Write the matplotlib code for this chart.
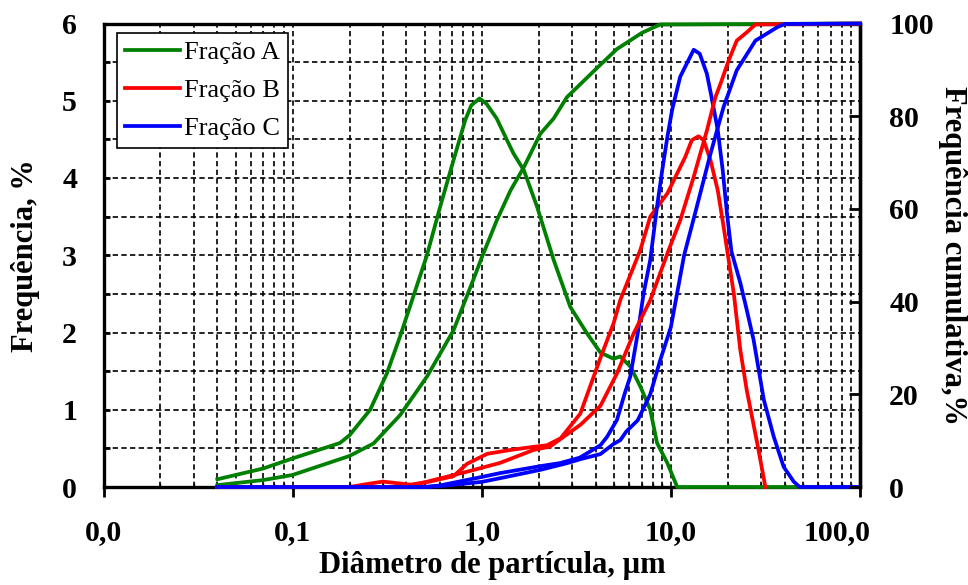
import numpy as np
import matplotlib
matplotlib.use("Agg")
import matplotlib.pyplot as plt
from matplotlib.ticker import FixedLocator, NullFormatter
from matplotlib.transforms import ScaledTranslation

plt.rcParams['font.family'] = ['Liberation Serif', 'DejaVu Serif']

# Fração A (verde)
xa_freq = [0.04, 0.07, 0.10, 0.178, 0.20, 0.257, 0.315, 0.37, 0.513, 0.603, 0.709, 0.818, 0.88,
           0.973, 1.06, 1.20, 1.36, 1.47, 1.67, 1.96, 2.40, 2.94, 3.60, 4.24, 4.98, 5.40, 6.1,
           6.9, 7.78, 8.45, 9.58, 10.8, 100]
ya_freq = [0.10, 0.24, 0.37, 0.57, 0.67, 1.0, 1.47, 1.95, 3.0, 3.63, 4.23, 4.75, 4.94,
           5.03, 4.96, 4.77, 4.49, 4.32, 4.10, 3.63, 2.94, 2.33, 1.99, 1.74, 1.66, 1.69, 1.56,
           1.30, 1.0, 0.57, 0.31, 0.0, 0.0]
xa_cum = [0.04, 0.07, 0.10, 0.20, 0.268, 0.37, 0.513, 0.709, 0.90, 1.0, 1.2, 1.42, 1.67, 2.04,
          2.40, 2.82, 4.24, 5.19, 7.04, 8.79, 100]
ya_cum = [0.4, 1.5, 2.6, 6.7, 9.4, 15.5, 23.8, 33.8, 44.6, 49.5, 57.5, 64.0, 69.0, 76.2,
          79.5, 84.1, 91.1, 94.5, 98.0, 99.8, 100]

# Fração B (vermelho)
xb_freq = [0.04, 0.20, 0.25, 0.30, 0.42, 0.53, 0.709, 0.836, 1.07, 1.42, 1.88, 2.21, 2.61,
           3.32, 4.24, 4.98, 5.40, 6.9, 7.78, 9.58, 11.9, 12.9, 14.0, 14.9, 16.2, 17.7, 19.0,
           20.2, 21.5, 23.3, 25.2, 28.6, 31.6]
yb_freq = [0, 0, 0.04, 0.07, 0.03, 0.07, 0.14, 0.30, 0.43, 0.48, 0.52, 0.54, 0.63,
           0.95, 1.67, 2.12, 2.42, 3.07, 3.50, 3.80, 4.27, 4.49, 4.54, 4.49, 4.23, 3.84, 3.37,
           2.94, 2.51, 1.77, 1.25, 0.57, 0.0]
xb_cum = [0.04, 0.40, 0.556, 0.836, 1.25, 1.88, 2.29, 3.32, 4.24, 5.19, 6.35, 7.78, 9.73,
          11.2, 13.2, 15.5, 17.2, 18.3, 20.2, 22.3, 25.2, 28.0, 100]
yb_cum = [0, 0, 1.5, 3.3, 5.2, 8.0, 8.7, 13.4, 17.5, 24.5, 33.1, 40.3, 51.1,
          57.5, 66.9, 76.9, 84.1, 87.0, 92.0, 96.3, 98.1, 99.8, 100]

# Fração C (azul)
xc_freq = [0.04, 0.50, 0.60, 1.0, 1.25, 2.04, 2.6, 3.3, 4.24, 4.6, 5.19, 5.7, 6.1, 6.68, 7.18,
           7.78, 8.45, 9.0, 9.58, 10.15, 11.2, 13.2, 14.2, 15.5, 16.4, 17.7, 18.8, 19.8, 20.9,
           23.3, 25.2, 27.4, 31.0, 35.0, 39.5, 44.6, 48.0, 100]
yc_freq = [0, 0, 0.02, 0.13, 0.18, 0.27, 0.31, 0.38, 0.54, 0.65, 0.87, 1.21, 1.43, 1.99, 2.51,
           2.94, 3.63, 4.10, 4.53, 4.88, 5.31, 5.66, 5.61, 5.35, 5.05, 4.62, 4.10, 3.54, 3.05,
           2.64, 2.29, 1.90, 1.13, 0.65, 0.26, 0.07, 0.0, 0.0]
xc_cum = [0.04, 0.50, 0.60, 1.0, 1.25, 2.04, 2.8, 3.32, 4.24, 4.98, 5.4, 5.82, 6.68, 7.78, 8.79,
          10.0, 11.75, 13.7, 16.2, 19.0, 22.3, 28.0, 36.5, 40, 100]
yc_cum = [0, 0, 0.2, 1.1, 1.9, 3.7, 5.1, 6.0, 7.1, 9.3, 10.1, 12.0, 14.4, 20.0, 27.4,
          34.5, 50.0, 60.4, 71.9, 82.0, 89.9, 96.3, 99.2, 99.9, 100]

labels = ['Fração A', 'Fração B', 'Fração C']
colors = ['#008000', '#ff0000', '#0000ff']
xticks = [0.01, 0.1, 1, 10, 100]
xticklabels = ['0,0', '0,1', '1,0', '10,0', '100,0']

fig = plt.figure(figsize=(9.68, 5.85), dpi=100)
ax = fig.add_axes([103.5/968, 1-487/585, (860-103.5)/968, (487-23.5)/585])
ax2 = ax.twinx()

lw = 2.7
freq = [(xa_freq, ya_freq), (xb_freq, yb_freq), (xc_freq, yc_freq)]
cum = [(xa_cum, ya_cum), (xb_cum, yb_cum), (xc_cum, yc_cum)]
handles = []
for (x, y), lab, c in zip(freq, labels, colors):
    h, = ax.plot(x, y, color=c, lw=lw, label=lab, solid_joinstyle='round',
                 clip_on=False, zorder=3)
    handles.append(h)
for (x, y), c in zip(cum, colors):
    ax2.plot(x, y, color=c, lw=lw, solid_joinstyle='round', clip_on=False, zorder=3)

ax.set_xscale('log')
ax.set_xlim(0.01, 100)
ax.set_ylim(0, 6)
ax2.set_ylim(0, 100)

ax.xaxis.set_major_locator(FixedLocator(xticks))
ax.set_xticklabels(xticklabels)
minors = [m * 10.0**e for e in range(-2, 2) for m in range(2, 10)]
ax.xaxis.set_minor_locator(FixedLocator(minors))
ax.xaxis.set_minor_formatter(NullFormatter())
ax.set_yticks(np.arange(0, 7, 1))
ax.set_yticks(np.arange(0.5, 6, 1), minor=True)
ax2.set_yticks(np.arange(0, 101, 20))

grid_kw = dict(color='black', lw=1.2, linestyle=(0, (3.2, 2.0)))
ax.grid(True, which='both', axis='x', **grid_kw)
ax.grid(True, which='both', axis='y', **grid_kw)
ax.set_axisbelow(True)

tick_font = dict(family='Liberation Serif', weight='bold', size=21.5)
label_font = dict(family='Liberation Serif', weight='bold', size=22)
ax.tick_params(axis='x', which='major', direction='out', length=7, width=2, pad=16)
ax.tick_params(axis='x', which='minor', direction='in', length=3, width=1)
ax.tick_params(axis='y', which='both', direction='in', length=4, width=2, pad=19)
ax2.tick_params(axis='y', which='major', direction='in', length=8, width=2, pad=21)
for lab in ax.get_xticklabels() + ax.get_yticklabels() + ax2.get_yticklabels():
    lab.set_fontproperties(tick_font)
last = ax.get_xticklabels()[-1]
last.set_transform(last.get_transform() + ScaledTranslation(-0.23, 0, fig.dpi_scale_trans))

for s in ax.spines.values():
    s.set_linewidth(2.4)
    s.set_color('black')
for side in ('left', 'top', 'bottom'):
    ax2.spines[side].set_visible(False)
ax2.spines['right'].set_linewidth(2.4)

ax.set_xlabel('Diâmetro de partícula, µm', fontdict=label_font)
ax.xaxis.set_label_coords(0.5135, -0.138)
ax.set_ylabel('Frequência, %', fontdict=label_font, labelpad=16)
ax2.set_ylabel('Frequência cumulativa,%', fontdict=label_font, rotation=-90, labelpad=24)

leg = ax2.legend(handles, labels, loc='upper left',
                 bbox_to_anchor=((117-103.5)/756.5, (487-33)/463.5),
                 borderaxespad=0, fancybox=False, framealpha=1, edgecolor='black',
                 prop=dict(family='Liberation Serif', size=19),
                 handlelength=2.1, handletextpad=0.15, labelspacing=0.55,
                 borderpad=0.3, handleheight=0.7)
leg.get_frame().set_linewidth(1.2)
leg.set_zorder(5)

fig.savefig('out.png', dpi=100)
